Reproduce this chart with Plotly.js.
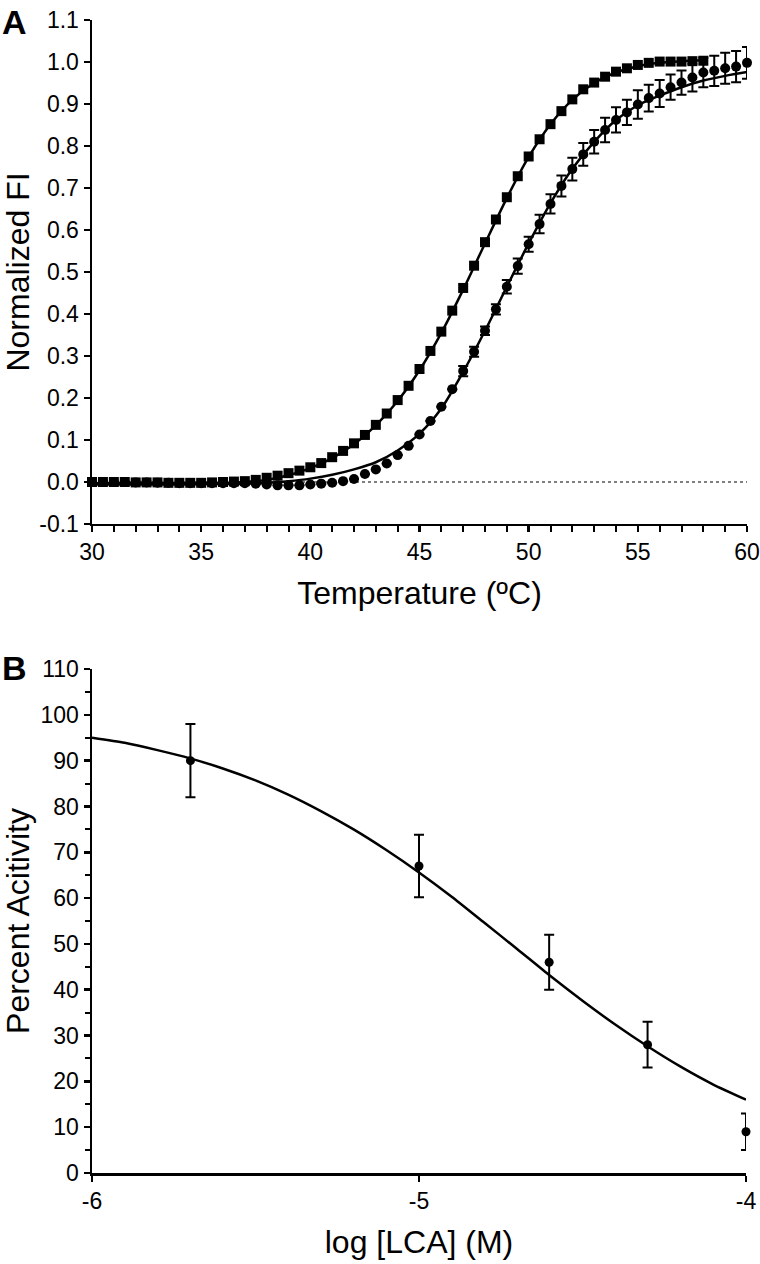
<!DOCTYPE html>
<html>
<head>
<meta charset="utf-8">
<script src="https://cdn.plot.ly/plotly-3.0.1.min.js"></script>
<style>
html,body{margin:0;padding:0;background:#fff;}
#chart{width:760px;height:1264px;}
</style>
</head>
<body>
<div id="chart"></div>
<script>
// ---------- Panel A: thermal melt ----------
var tempSquares = [30,30.5,31,31.5,32,32.5,33,33.5,34,34.5,35,35.5,36,36.5,37,37.5,38,38.5,39,39.5,40,40.5,41,41.5,42,42.5,43,43.5,44,44.5,45,45.5,46,46.5,47,47.5,48,48.5,49,49.5,50,50.5,51,51.5,52,52.5,53,53.5,54,54.5,55,55.5,56,56.5,57,57.5,58];
var fiSquares = [0.000,0.000,0.000,0.000,-0.001,-0.001,-0.001,-0.002,-0.002,-0.002,-0.002,-0.001,0.000,0.001,0.002,0.005,0.010,0.015,0.021,0.027,0.035,0.045,0.059,0.074,0.092,0.112,0.136,0.163,0.195,0.229,0.269,0.312,0.358,0.408,0.462,0.515,0.571,0.625,0.678,0.728,0.775,0.816,0.852,0.883,0.911,0.935,0.951,0.965,0.977,0.985,0.993,0.998,1.001,1.001,1.001,1.002,1.003];

var tempCircles = [30,30.5,31,31.5,32,32.5,33,33.5,34,34.5,35,35.5,36,36.5,37,37.5,38,38.5,39,39.5,40,40.5,41,41.5,42,42.5,43,43.5,44,44.5,45,45.5,46,46.5,47,47.5,48,48.5,49,49.5,50,50.5,51,51.5,52,52.5,53,53.5,54,54.5,55,55.5,56,56.5,57,57.5,58,58.5,59,59.5,60];
var fiCircles = [0.000,0.000,0.000,0.000,-0.001,-0.001,-0.002,-0.002,-0.003,-0.003,-0.003,-0.003,-0.003,-0.003,-0.003,-0.004,-0.006,-0.008,-0.008,-0.008,-0.006,-0.004,-0.002,0.002,0.007,0.019,0.030,0.044,0.064,0.086,0.113,0.145,0.179,0.221,0.264,0.310,0.360,0.411,0.465,0.514,0.566,0.614,0.662,0.705,0.745,0.780,0.810,0.838,0.862,0.880,0.899,0.914,0.925,0.940,0.951,0.963,0.975,0.979,0.985,0.989,0.998];
var fiCirclesErr = [null,null,null,null,null,null,null,null,null,null,null,null,null,null,null,null,null,null,null,null,null,null,null,null,null,null,null,null,null,null,null,null,null,null,0.012,0.012,0.010,0.012,0.016,0.018,0.018,0.022,0.023,0.025,0.027,0.027,0.028,0.029,0.030,0.030,0.034,0.032,0.032,0.030,0.029,0.033,0.035,0.036,0.037,0.037,0.038];

var fitSquaresT = [30,32,34,36,37,38,39,40,41,42,43,44,45,46,47,48,49,50,51,52,53,54,55,56,57,58];
var fitSquaresY = [-0.003,-0.003,-0.003,-0.002,0.000,0.005,0.016,0.033,0.057,0.090,0.135,0.193,0.266,0.355,0.458,0.568,0.676,0.774,0.852,0.910,0.950,0.975,0.990,0.998,1.002,1.004];

var fitCirclesT = [30,32,34,36,37,38,39,40,41,42,43,44,45,46,47,48,49,50,51,52,53,54,55,56,57,58,59,60];
var fitCirclesY = [-0.006,-0.006,-0.006,-0.005,-0.004,-0.002,0.002,0.008,0.017,0.030,0.047,0.075,0.115,0.175,0.262,0.360,0.465,0.568,0.664,0.746,0.810,0.862,0.897,0.920,0.940,0.956,0.967,0.976];

var baselineT = [30,60];
var baselineY = [0,0];

var fiTickVals = [-0.1,0,0.1,0.2,0.3,0.4,0.5,0.6,0.7,0.8,0.9,1.0,1.1];
var fiTickText = ["-0.1","0.0","0.1","0.2","0.3","0.4","0.5","0.6","0.7","0.8","0.9","1.0","1.1"];

// ---------- Panel B: inhibition ----------
var logLCA = [-5.699,-5.0,-4.602,-4.301,-4.0];
var activity = [90,67,46,28,9];
var activityErr = [8,6.8,6,5,4];

var fitLogLCA = [-6,-5.9,-5.8,-5.7,-5.6,-5.5,-5.4,-5.3,-5.2,-5.1,-5.0,-4.9,-4.8,-4.7,-4.6,-4.5,-4.4,-4.3,-4.2,-4.1,-4.0];
var fitActivity = [95.0,93.9,92.3,90.5,88.3,85.7,82.6,79.0,75.0,70.5,65.6,60.3,54.6,48.9,43.1,37.6,32.4,27.6,23.2,19.3,16.0];

var lcaTickVals = [-6,-5,-4];
var lcaTickText = ["-6","-5","-4"];

var FONT = 'Liberation Sans, Arial, Helvetica, sans-serif';
var BLACK = '#000000';
var W = 760;

var traces = [
  {x: baselineT, y: baselineY, xaxis:'x', yaxis:'y', mode:'lines',
   line:{color:BLACK, width:1.2, dash:'dot'}, hoverinfo:'skip'},
  {x: fitSquaresT, y: fitSquaresY, xaxis:'x', yaxis:'y', mode:'lines',
   line:{color:BLACK, width:2.5, shape:'spline', smoothing:0.8}},
  {x: fitCirclesT, y: fitCirclesY, xaxis:'x', yaxis:'y', mode:'lines',
   line:{color:BLACK, width:2.5, shape:'spline', smoothing:0.8}},
  {x: tempSquares, y: fiSquares, xaxis:'x', yaxis:'y', mode:'markers', cliponaxis:false,
   marker:{symbol:'square', size:10, color:BLACK}},
  {x: tempCircles, y: fiCircles, xaxis:'x', yaxis:'y', mode:'markers', cliponaxis:false,
   marker:{symbol:'circle', size:10, color:BLACK},
   error_y:{type:'data', array: fiCirclesErr, visible:true, color:BLACK, thickness:2, width:5}},
  {x: fitLogLCA, y: fitActivity, xaxis:'x2', yaxis:'y2', mode:'lines',
   line:{color:BLACK, width:2.5, shape:'spline', smoothing:0.6}},
  {x: logLCA, y: activity, xaxis:'x2', yaxis:'y2', mode:'markers', cliponaxis:false,
   marker:{symbol:'circle', size:9, color:BLACK},
   error_y:{type:'data', array: activityErr, visible:true, color:BLACK, thickness:2, width:5}}
];

function axisBase(){
  return {showline:true, linewidth:2.5, linecolor:BLACK, ticks:'outside', ticklen:6, tickwidth:2.5,
          tickcolor:BLACK, showgrid:false, zeroline:false, fixedrange:true,
          tickfont:{family:FONT, size:23, color:BLACK}};
}

var xa = axisBase();
Object.assign(xa, {domain:[92/W, 747/W], range:[30,60], anchor:'y', tickmode:'linear', tick0:30, dtick:5,
  minor:{tick0:30, dtick:1, ticks:'outside', ticklen:6, tickwidth:2, tickcolor:BLACK, showgrid:false},
  title:{text:'Temperature (ºC)', font:{family:FONT, size:32, color:BLACK}, standoff:18}});
var ya = axisBase();
Object.assign(ya, {domain:[0.5629,1], range:[-0.1,1.1], anchor:'x', tickmode:'array',
  tickvals: fiTickVals, ticktext: fiTickText,
  title:{text:'Normalized FI', font:{family:FONT, size:32, color:BLACK}, standoff:20}});
var xb = axisBase();
Object.assign(xb, {domain:[92/W, 746/W], range:[-6,-4], anchor:'y2', tickmode:'array',
  tickvals: lcaTickVals, ticktext: lcaTickText,
  title:{text:'log [LCA] (M)', font:{family:FONT, size:32, color:BLACK}, standoff:18}});
var yb = axisBase();
Object.assign(yb, {domain:[0,0.4371], range:[0,110], anchor:'x2', tickmode:'linear', tick0:0, dtick:10,
  minor:{tick0:0, dtick:5, ticks:'outside', ticklen:5, tickwidth:2, tickcolor:BLACK, showgrid:false},
  title:{text:'Percent Acitivity', font:{family:FONT, size:32, color:BLACK}, standoff:19}});

var layout = {
  width:760, height:1264,
  margin:{l:0, r:0, t:20, b:91, pad:0},
  paper_bgcolor:'#ffffff', plot_bgcolor:'#ffffff',
  showlegend:false,
  font:{family:FONT, color:BLACK},
  xaxis: xa, yaxis: ya, xaxis2: xb, yaxis2: yb,
  annotations:[
    {text:'<b>A</b>', xref:'paper', yref:'paper', x:0, y:1+19/1153, xanchor:'left', yanchor:'top',
     showarrow:false, font:{family:FONT, size:34, color:BLACK}},
    {text:'<b>B</b>', xref:'paper', yref:'paper', x:0, y:(1153-627)/1153, xanchor:'left', yanchor:'top',
     showarrow:false, font:{family:FONT, size:34, color:BLACK}}
  ]
};

Plotly.newPlot('chart', traces, layout, {staticPlot:true, displayModeBar:false});
</script>
</body>
</html>
